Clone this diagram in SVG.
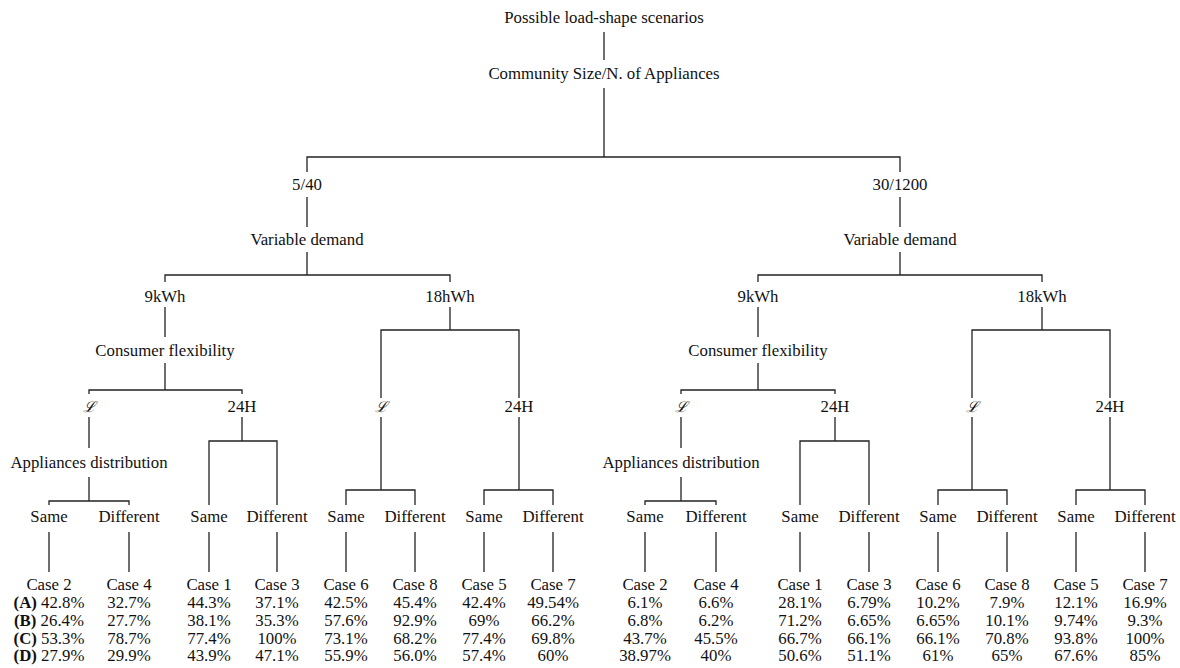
<svg xmlns="http://www.w3.org/2000/svg" width="1180" height="668" viewBox="0 0 1180 668">
<style>
text{font-family:"Liberation Serif","Times New Roman",serif;font-size:16.8px;fill:#111;text-anchor:middle}
.b{font-weight:bold}
.cal{font-family:"DejaVu Serif","Liberation Serif",serif;font-style:italic;font-size:15px}
#connectors path{fill:none;stroke:#222;stroke-width:1.3}
</style>
<rect width="1180" height="668" fill="#fff"/>
<g id="connectors">
<path d="M604,32V60M604,88V157M307,172V157H900V172"/>
<path d="M307,197V227M900,197V227"/>
<path d="M307,252V275M165,282V275H450V282M900,252V275M758,282V275H1042V282"/>
<path d="M165,307V337M450,307V330M381,398V330H519V398"/>
<path d="M758,307V337M1042,307V330M972,398V330H1110V398"/>
<path d="M165,363V390M89,394V390H242V394M758,363V390M681,394V390H835V394"/>
<path d="M89,417V448M89,477V501M49,505V501H129V505"/>
<path d="M681,417V448M681,477V501M645,505V501H716V505"/>
<path d="M242,417V441M209,505V441H277V505M835,417V441M800,505V441H869V505"/>
<path d="M381,417V490M346,505V490H415V505M519,417V490M484,505V490H553V505"/>
<path d="M972,417V490M938,505V490H1007V505M1110,417V490M1076,505V490H1145V505"/>
<path d="M49,532V572M129,532V572M209,532V572M277,532V572M346,532V572M415,532V572M484,532V572M553,532V572"/>
<path d="M645,532V572M716,532V572M800,532V572M869,532V572M938,532V572M1007,532V572M1076,532V572M1145,532V572"/>
</g>
<g id="root"><text x="604" y="23">Possible load-shape scenarios</text></g>
<g id="community"><text x="604" y="79">Community Size/N. of Appliances</text></g>
<g id="size-5-40"><text x="307" y="190">5/40</text></g>
<g id="size-30-1200"><text x="900" y="190">30/1200</text></g>
<g id="vd-left"><text x="307" y="245">Variable demand</text></g>
<g id="vd-right"><text x="900" y="245">Variable demand</text></g>
<g id="l-9kwh"><text x="165" y="302">9kWh</text></g>
<g id="l-18hwh"><text x="450" y="302">18hWh</text></g>
<g id="r-9kwh"><text x="758" y="302">9kWh</text></g>
<g id="r-18kwh"><text x="1042" y="302">18kWh</text></g>
<g id="cf-left"><text x="165" y="356">Consumer flexibility</text></g>
<g id="cf-right"><text x="758" y="356">Consumer flexibility</text></g>
<g id="l-9-L"><text class="cal" x="89" y="412">ℒ</text></g>
<g id="l-9-24H"><text x="242" y="412">24H</text></g>
<g id="l-18-L"><text class="cal" x="381" y="412">ℒ</text></g>
<g id="l-18-24H"><text x="519" y="412">24H</text></g>
<g id="r-9-L"><text class="cal" x="681" y="412">ℒ</text></g>
<g id="r-9-24H"><text x="835" y="412">24H</text></g>
<g id="r-18-L"><text class="cal" x="972" y="412">ℒ</text></g>
<g id="r-18-24H"><text x="1110" y="412">24H</text></g>
<g id="ad-left"><text x="89" y="468">Appliances distribution</text></g>
<g id="ad-right"><text x="681" y="468">Appliances distribution</text></g>
<g id="sd-labels">
<text x="49" y="522">Same</text><text x="129" y="522">Different</text>
<text x="209" y="522">Same</text><text x="277" y="522">Different</text>
<text x="346" y="522">Same</text><text x="415" y="522">Different</text>
<text x="484" y="522">Same</text><text x="553" y="522">Different</text>
<text x="645" y="522">Same</text><text x="716" y="522">Different</text>
<text x="800" y="522">Same</text><text x="869" y="522">Different</text>
<text x="938" y="522">Same</text><text x="1007" y="522">Different</text>
<text x="1076" y="522">Same</text><text x="1145" y="522">Different</text>
</g>
<g id="l-case2"><text x="49" y="590">Case 2</text><text x="49" y="608"><tspan class="b">(A)</tspan> 42.8%</text><text x="49" y="626"><tspan class="b">(B)</tspan> 26.4%</text><text x="49" y="643.5"><tspan class="b">(C)</tspan> 53.3%</text><text x="49" y="661"><tspan class="b">(D)</tspan> 27.9%</text></g>
<g id="l-case4"><text x="129" y="590">Case 4</text><text x="129" y="608">32.7%</text><text x="129" y="626">27.7%</text><text x="129" y="643.5">78.7%</text><text x="129" y="661">29.9%</text></g>
<g id="l-case1"><text x="209" y="590">Case 1</text><text x="209" y="608">44.3%</text><text x="209" y="626">38.1%</text><text x="209" y="643.5">77.4%</text><text x="209" y="661">43.9%</text></g>
<g id="l-case3"><text x="277" y="590">Case 3</text><text x="277" y="608">37.1%</text><text x="277" y="626">35.3%</text><text x="277" y="643.5">100%</text><text x="277" y="661">47.1%</text></g>
<g id="l-case6"><text x="346" y="590">Case 6</text><text x="346" y="608">42.5%</text><text x="346" y="626">57.6%</text><text x="346" y="643.5">73.1%</text><text x="346" y="661">55.9%</text></g>
<g id="l-case8"><text x="415" y="590">Case 8</text><text x="415" y="608">45.4%</text><text x="415" y="626">92.9%</text><text x="415" y="643.5">68.2%</text><text x="415" y="661">56.0%</text></g>
<g id="l-case5"><text x="484" y="590">Case 5</text><text x="484" y="608">42.4%</text><text x="484" y="626">69%</text><text x="484" y="643.5">77.4%</text><text x="484" y="661">57.4%</text></g>
<g id="l-case7"><text x="553" y="590">Case 7</text><text x="553" y="608">49.54%</text><text x="553" y="626">66.2%</text><text x="553" y="643.5">69.8%</text><text x="553" y="661">60%</text></g>
<g id="r-case2"><text x="645" y="590">Case 2</text><text x="645" y="608">6.1%</text><text x="645" y="626">6.8%</text><text x="645" y="643.5">43.7%</text><text x="645" y="661">38.97%</text></g>
<g id="r-case4"><text x="716" y="590">Case 4</text><text x="716" y="608">6.6%</text><text x="716" y="626">6.2%</text><text x="716" y="643.5">45.5%</text><text x="716" y="661">40%</text></g>
<g id="r-case1"><text x="800" y="590">Case 1</text><text x="800" y="608">28.1%</text><text x="800" y="626">71.2%</text><text x="800" y="643.5">66.7%</text><text x="800" y="661">50.6%</text></g>
<g id="r-case3"><text x="869" y="590">Case 3</text><text x="869" y="608">6.79%</text><text x="869" y="626">6.65%</text><text x="869" y="643.5">66.1%</text><text x="869" y="661">51.1%</text></g>
<g id="r-case6"><text x="938" y="590">Case 6</text><text x="938" y="608">10.2%</text><text x="938" y="626">6.65%</text><text x="938" y="643.5">66.1%</text><text x="938" y="661">61%</text></g>
<g id="r-case8"><text x="1007" y="590">Case 8</text><text x="1007" y="608">7.9%</text><text x="1007" y="626">10.1%</text><text x="1007" y="643.5">70.8%</text><text x="1007" y="661">65%</text></g>
<g id="r-case5"><text x="1076" y="590">Case 5</text><text x="1076" y="608">12.1%</text><text x="1076" y="626">9.74%</text><text x="1076" y="643.5">93.8%</text><text x="1076" y="661">67.6%</text></g>
<g id="r-case7"><text x="1145" y="590">Case 7</text><text x="1145" y="608">16.9%</text><text x="1145" y="626">9.3%</text><text x="1145" y="643.5">100%</text><text x="1145" y="661">85%</text></g>
</svg>
